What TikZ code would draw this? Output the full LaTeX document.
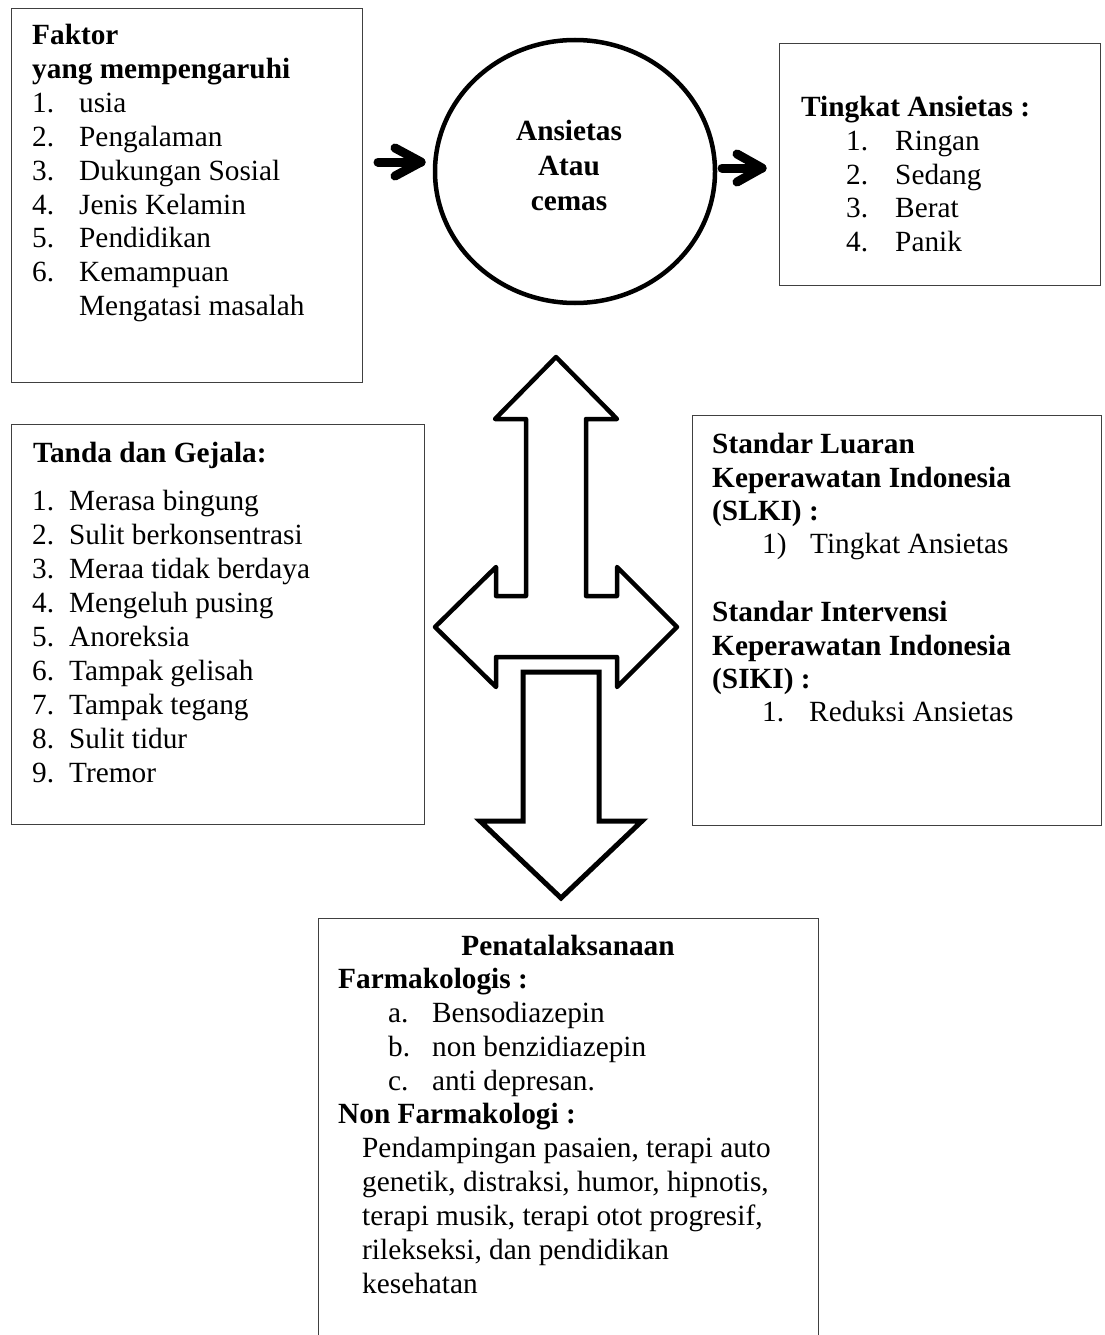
\documentclass[tikz,border=0pt]{standalone}
\usepackage{fontspec}
\setmainfont{Liberation Serif}
\usetikzlibrary{shapes.geometric}
\newcommand\fsz{\fontsize{29.3}{34}\selectfont}
\newcommand\TL[4]{\node[txt] (#1) at (#2,#3) {#4};}
\newcommand\TB[4]{\node[hd] (#1) at (#2,#3) {#4};}
\tikzset{
  box/.style={draw=black!75, line width=1.2pt, anchor=north west, inner sep=0pt},
  txt/.style={anchor=base west, inner sep=0pt, font=\fsz},
  hd/.style={anchor=base west, inner sep=0pt, font=\fsz\bfseries},
  bigarrow/.style={draw=black, line width=4.5pt, line join=round},
  smallarrow/.style={draw=black, line width=9pt, line cap=round, line join=round}
}
\begin{document}
\begin{tikzpicture}[x=1pt,y=-1pt]
\path[use as bounding box] (0,0) rectangle (1104,1335);
\clip (0,0) rectangle (1104,1335);
\fill[white] (0,0) rectangle (1104,1335);

% boxes
\node[box, minimum width=351pt, minimum height=374pt] (b1) at (11,8) {};
\node[box, minimum width=321pt, minimum height=242pt] (b2) at (779,43) {};
\node[box, minimum width=413pt, minimum height=400pt] (b3) at (11,424) {};
\node[box, minimum width=409pt, minimum height=410pt] (b4) at (692,415) {};
\node[box, minimum width=500pt, minimum height=500pt] (b5) at (318,918) {};

% central ellipse
\node[draw=black, line width=4.5pt, ellipse, minimum width=280pt, minimum height=263pt, inner sep=0pt] (c) at (575,171.5) {};
\node[hd, anchor=base] (c1) at (569,140) {Ansietas};
\node[hd, anchor=base] (c2) at (569,175) {Atau};
\node[hd, anchor=base] (c3) at (569,210) {cemas};

% small arrows
\coordinate (la1) at (378,162);
\coordinate (la2) at (421,162);
\coordinate (lu) at (395,148);
\coordinate (ld) at (395,176);
\draw[smallarrow] (la1) -- (la2);
\draw[smallarrow] (lu) -- (la2) -- (ld);
\coordinate (ra1) at (722,168);
\coordinate (ra2) at (762,168);
\coordinate (ru) at (737,154);
\coordinate (rd) at (737,182);
\draw[smallarrow] (ra1) -- (ra2);
\draw[smallarrow] (ru) -- (ra2) -- (rd);

% box 1
\TB{f0}{32}{44.5}{Faktor}
\TB{f1}{32}{78.4}{yang mempengaruhi}
\TL{fn1}{32}{112.3}{1.}\TL{ft1}{79}{112.3}{usia}
\TL{fn2}{32}{146.2}{2.}\TL{ft2}{79}{146.2}{Pengalaman}
\TL{fn3}{32}{180.1}{3.}\TL{ft3}{79}{180.1}{Dukungan Sosial}
\TL{fn4}{32}{214}{4.}\TL{ft4}{79}{214}{Jenis Kelamin}
\TL{fn5}{32}{247.9}{5.}\TL{ft5}{79}{247.9}{Pendidikan}
\TL{fn6}{32}{281.8}{6.}\TL{ft6}{79}{281.8}{Kemampuan}
\TL{ft7}{79}{315.7}{Mengatasi masalah}

% box 2
\TB{t0}{801}{117}{Tingkat Ansietas :}
\TL{tn1}{846}{150.5}{1.}\TL{tt1}{895}{150.5}{Ringan}
\TL{tn2}{846}{184}{2.}\TL{tt2}{895}{184}{Sedang}
\TL{tn3}{846}{217.5}{3.}\TL{tt3}{895}{217.5}{Berat}
\TL{tn4}{846}{251}{4.}\TL{tt4}{895}{251}{Panik}

% box 3
\TB{g0}{33}{462}{Tanda dan Gejala:}
\TL{gn1}{32}{510}{1.}\TL{gt1}{69}{510}{Merasa bingung}
\TL{gn2}{32}{544}{2.}\TL{gt2}{69}{544}{Sulit berkonsentrasi}
\TL{gn3}{32}{578}{3.}\TL{gt3}{69}{578}{Meraa tidak berdaya}
\TL{gn4}{32}{612}{4.}\TL{gt4}{69}{612}{Mengeluh pusing}
\TL{gn5}{32}{646}{5.}\TL{gt5}{69}{646}{Anoreksia}
\TL{gn6}{32}{680}{6.}\TL{gt6}{69}{680}{Tampak gelisah}
\TL{gn7}{32}{714}{7.}\TL{gt7}{69}{714}{Tampak tegang}
\TL{gn8}{32}{748}{8.}\TL{gt8}{69}{748}{Sulit tidur}
\TL{gn9}{32}{782}{9.}\TL{gt9}{69}{782}{Tremor}

% box 4
\TB{s0}{712}{453}{Standar Luaran}
\TB{s1}{712}{487}{Keperawatan Indonesia}
\TB{s2}{712}{520}{(SLKI) :}
\TL{sn3}{762}{553}{1)}\TL{st3}{810}{553}{Tingkat Ansietas}
\TB{s4}{712}{621}{Standar Intervensi}
\TB{s5}{712}{655}{Keperawatan Indonesia}
\TB{s6}{712}{688}{(SIKI) :}
\TL{sn7}{762}{721}{1.}\TL{st7}{809}{721}{Reduksi Ansietas}

% box 5
\node[hd, anchor=base] (p0) at (568,955) {Penatalaksanaan};
\TB{p1}{338}{988}{Farmakologis :}
\TL{pn2}{388}{1022}{a.}\TL{pt2}{432}{1022}{Bensodiazepin}
\TL{pn3}{388}{1056}{b.}\TL{pt3}{432}{1056}{non benzidiazepin}
\TL{pn4}{388}{1090}{c.}\TL{pt4}{432}{1090}{anti depresan.}
\TB{p5}{338}{1123}{Non Farmakologi :}
\TL{pt6}{362}{1157}{Pendampingan pasaien, terapi auto}
\TL{pt7}{362}{1191}{genetik, distraksi, humor, hipnotis,}
\TL{pt8}{362}{1225}{terapi musik, terapi otot progresif,}
\TL{pt9}{362}{1259}{rilekseksi, dan pendidikan}
\TL{pt10}{362}{1293}{kesehatan}

% big cross arrow
\draw[bigarrow] (556,357) -- (617,419) -- (586,419) -- (586,596) -- (617,596) -- (617,567)
  -- (677,627) -- (617,687) -- (617,657) -- (496,657) -- (496,687) -- (435,627)
  -- (496,567) -- (496,596) -- (526,596) -- (526,419) -- (495,419) -- cycle;

% down arrow
\draw[draw=black, line width=5pt, line join=miter] (523,672) -- (599,672) -- (599,821) -- (642,821)
  -- (561,898) -- (480,821) -- (523,821) -- cycle;
\end{tikzpicture}
\end{document}
